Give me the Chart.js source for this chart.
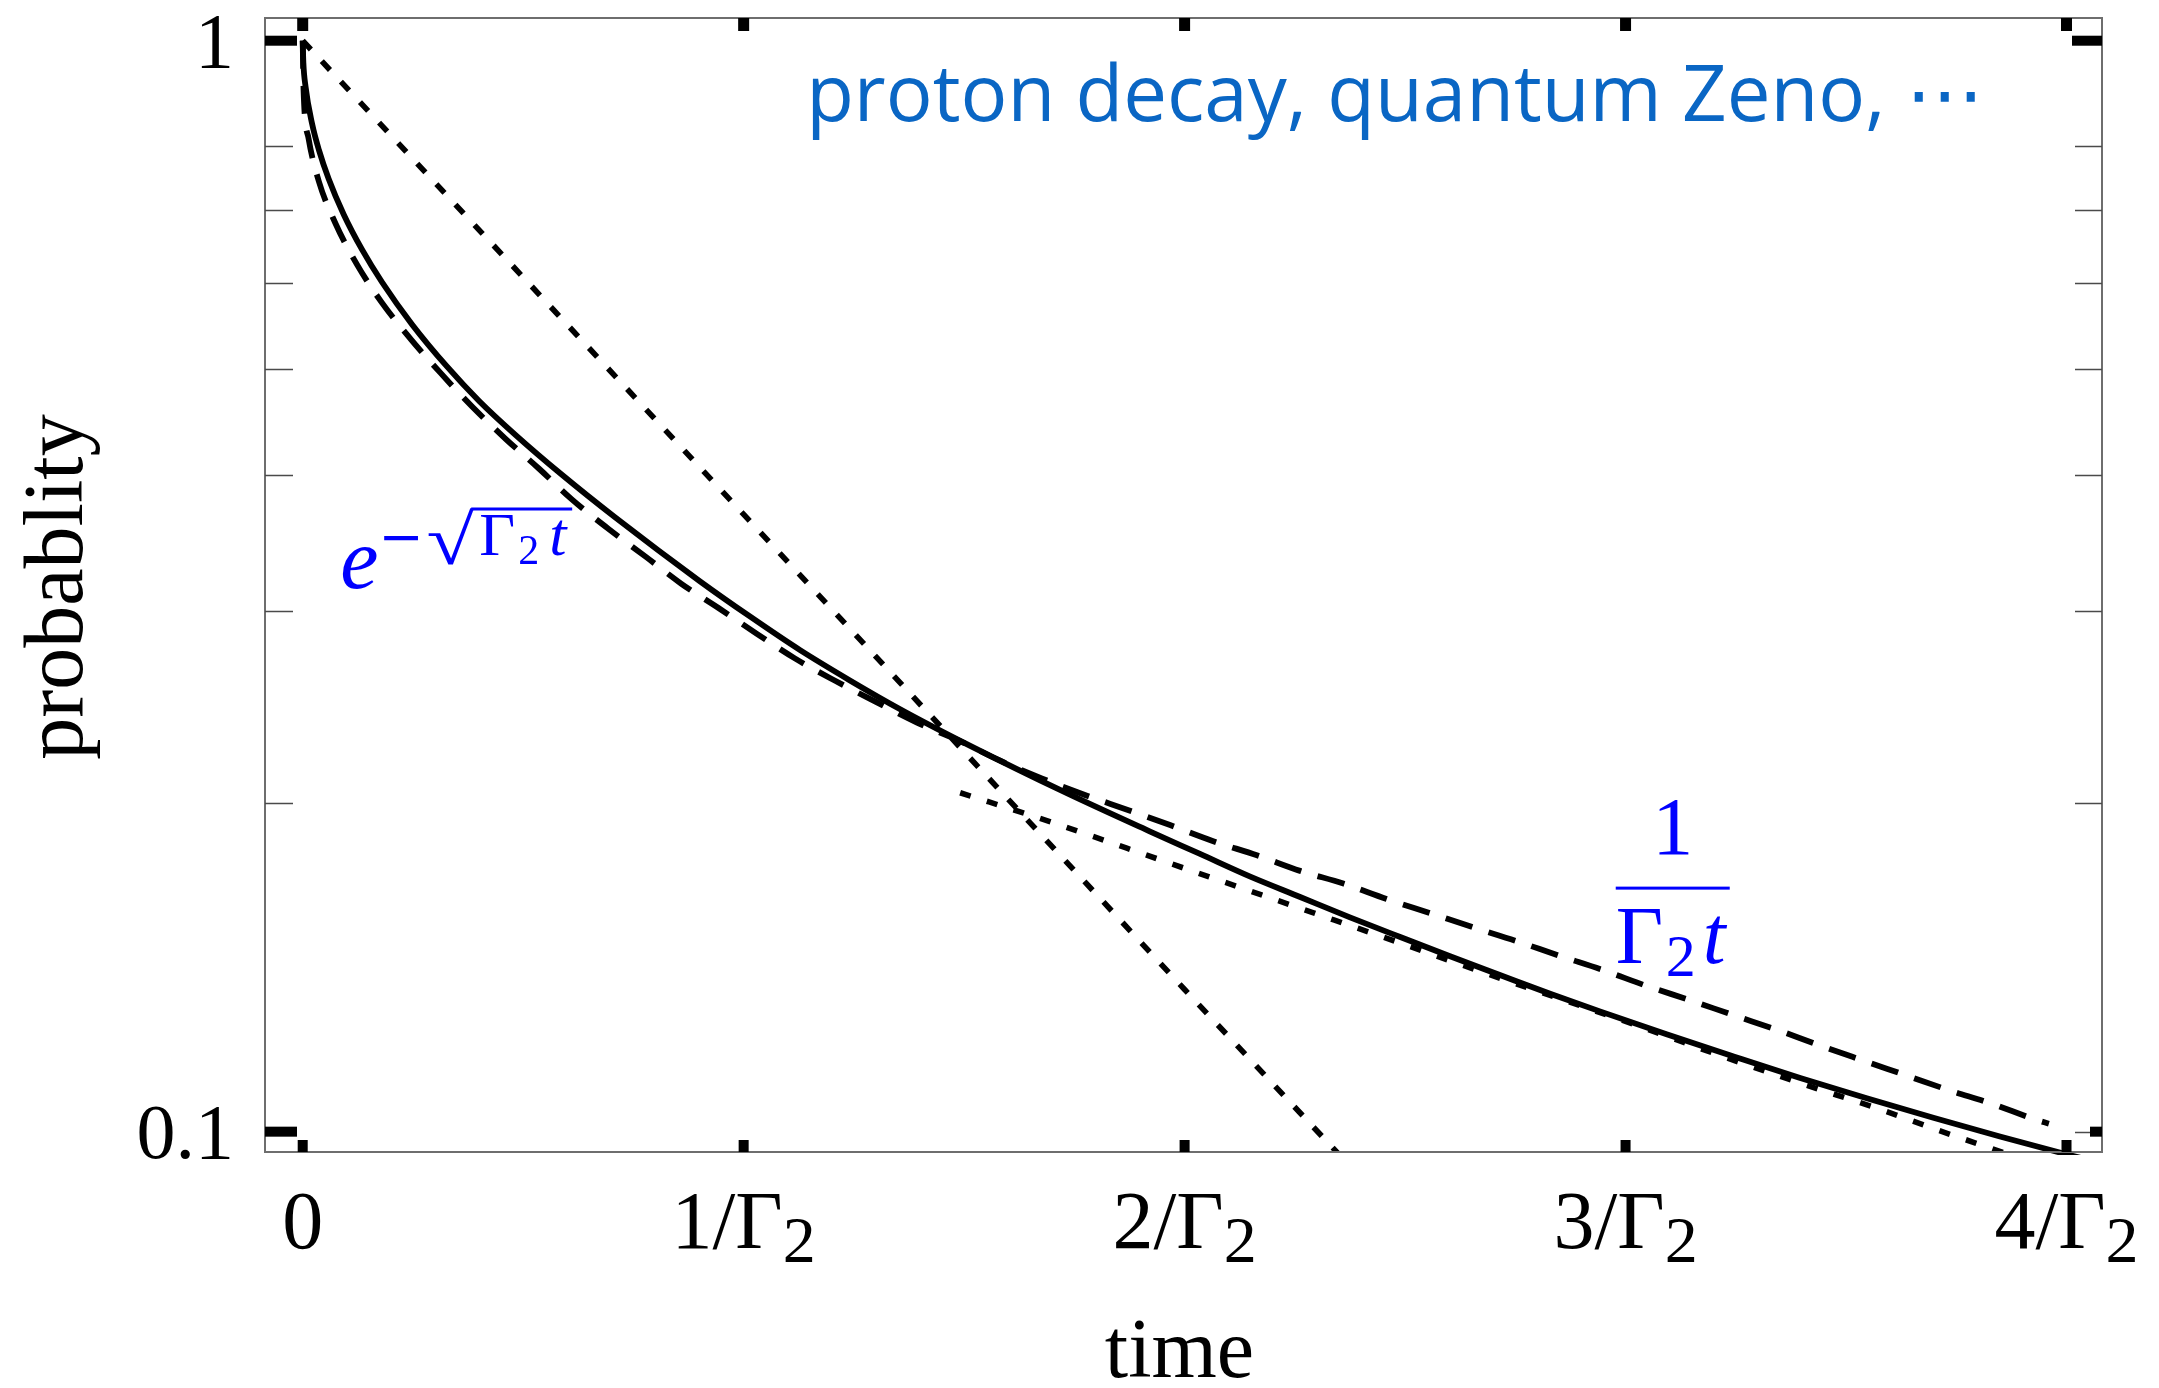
<!DOCTYPE html>
<html>
<head>
<meta charset="utf-8">
<script src="https://cdn.jsdelivr.net/npm/chart.js@4.4.1/dist/chart.umd.min.js"></script>
<style>
  html, body { margin: 0; padding: 0; background: #fff; }
  canvas { display: block; }
</style>
</head>
<body>
<canvas id="c" width="2159" height="1388"></canvas>
<script>
// Survival probability vs time (time in units of 1/Γ2), log-scaled probability.

// exact survival probability (solid)
const tSolid = [0, 0.0015, 0.0064, 0.0215, 0.0367, 0.059, 0.093, 0.135, 0.180, 0.248, 0.328, 0.40, 0.483, 0.588, 0.709, 0.901, 1.015, 1.128, 1.241, 1.355, 1.506, 1.733, 1.922, 2.035, 2.149, 2.262, 2.375, 2.489, 2.602, 2.715, 2.829, 2.942, 3.093, 3.245, 3.396, 3.547, 3.698, 3.849, 3.993, 4.06];
const pSolid = [1, 0.9546, 0.9083, 0.8385, 0.7943, 0.7468, 0.6930, 0.6430, 0.6006, 0.5495, 0.5023, 0.4675, 0.435, 0.400, 0.3655, 0.3195, 0.2965, 0.2763, 0.2592, 0.2439, 0.2266, 0.2043, 0.1884, 0.1797, 0.1713, 0.1641, 0.1572, 0.1508, 0.1448, 0.1392, 0.1338, 0.1289, 0.1228, 0.1172, 0.1120, 0.1073, 0.1030, 0.0990, 0.0955, 0.0940];

// short- and long-time asymptotic form (dashed)
const tDashed = [0, 0.002, 0.0132, 0.0367, 0.0744, 0.1236, 0.1787, 0.2445, 0.3125, 0.384, 0.46, 0.5355, 0.6097, 0.693, 0.778, 0.858, 0.943, 1.030, 1.117, 1.2075, 1.30, 1.393, 1.485, 1.582, 1.676, 1.774, 1.873, 1.967, 2.065, 2.164, 2.262, 2.36, 2.458, 2.557, 2.655, 2.753, 2.851, 2.95, 3.048, 3.146, 3.244, 3.343, 3.437, 3.536, 3.634, 3.732, 3.83, 3.929, 3.96];
const pDashed = [1, 0.90, 0.814, 0.743, 0.680, 0.623, 0.576, 0.533, 0.496, 0.462, 0.4316, 0.4054, 0.380, 0.357, 0.3365, 0.318, 0.302, 0.286, 0.2714, 0.259, 0.2477, 0.2371, 0.2286, 0.2188, 0.2108, 0.2035, 0.1971, 0.191, 0.1846, 0.1792, 0.1734, 0.1688, 0.1634, 0.1586, 0.1539, 0.1495, 0.1449, 0.1406, 0.136, 0.132, 0.1279, 0.124, 0.1201, 0.1163, 0.1127, 0.1092, 0.1061, 0.1026, 0.1017];

// pure exponential decay (dotted)
const tExp = [0, 0.5, 1, 1.5, 2, 2.4];
const pExp = [1, 0.607, 0.368, 0.223, 0.135, 0.0907];

// late-time tail (dotted)
const tTail = [1.491, 1.6875, 1.869, 2.054, 2.115, 2.296, 2.481, 2.663, 2.783, 3.0, 3.2, 3.396, 3.581, 3.706, 3.827, 3.9];
const pTail = [0.2045, 0.1928, 0.1819, 0.1713, 0.168, 0.1585, 0.1493, 0.1406, 0.1353, 0.1262, 0.1180, 0.1108, 0.1047, 0.1004, 0.0966, 0.0943];

// axes
const xTickValues = [0, 1, 2, 3, 4];
const xTickMain = ['0', '1/Γ', '2/Γ', '3/Γ', '4/Γ'];
const xTickSub = ['', '2', '2', '2', '2'];
const yMajorValues = [1, 0.1];
const yMajorLabels = ['1', '0.1'];
const yMinorValues = [0.2, 0.3, 0.4, 0.5, 0.6, 0.7, 0.8];
const xTitle = 'time';
const yTitle = 'probablity';
const noteText = 'proton decay, quantum Zeno, \u22EF';

const SERIF = '"Liberation Serif", "Times New Roman", serif';
const BLUE = '#0000ff';
const NOTE_BLUE = '#0a66c4';

function runsWidth(ctx, runs) {
  let w = 0;
  runs.forEach(r => { ctx.font = r.font; w += ctx.measureText(r.text).width; });
  return w;
}
function drawRuns(ctx, runs, x, y) {
  let cx = x;
  runs.forEach(r => {
    ctx.font = r.font;
    ctx.fillText(r.text, cx + (r.dx || 0), y + (r.dy || 0));
    cx += ctx.measureText(r.text).width + (r.dx || 0);
  });
}
// draw a glyph stretched to fill the box (left, top, width, height)
function fitGlyph(ctx, ch, font, left, top, w, h) {
  ctx.font = font;
  const m = ctx.measureText(ch);
  const gw = m.actualBoundingBoxLeft + m.actualBoundingBoxRight;
  const gh = m.actualBoundingBoxAscent + m.actualBoundingBoxDescent;
  ctx.save();
  ctx.translate(left, top);
  ctx.scale(w / gw, h / gh);
  ctx.textAlign = 'left';
  ctx.fillText(ch, m.actualBoundingBoxLeft, m.actualBoundingBoxAscent);
  ctx.restore();
}

const framePlugin = {
  id: 'frame',
  afterDraw(chart) {
    const { ctx, chartArea: a, scales: { x, y } } = chart;
    ctx.save();

    // plot frame
    ctx.strokeStyle = '#6e6e6e';
    ctx.lineWidth = 2;
    ctx.strokeRect(a.left, a.top, a.right - a.left, a.bottom - a.top);

    // minor y ticks, both sides
    ctx.strokeStyle = '#4a4a4a';
    ctx.lineWidth = 1.5;
    yMinorValues.forEach(v => {
      const py = Math.round(y.getPixelForValue(v)) + 0.5;
      ctx.beginPath();
      ctx.moveTo(a.left, py); ctx.lineTo(a.left + 28, py);
      ctx.moveTo(a.right - 27, py); ctx.lineTo(a.right, py);
      ctx.stroke();
    });

    // major x ticks, bottom and top
    ctx.fillStyle = '#000';
    xTickValues.forEach(v => {
      const px = x.getPixelForValue(v);
      ctx.fillRect(px - 5, a.bottom - 12, 10, 12);
      ctx.fillRect(px - 5.5, a.top, 11, 13);
    });

    // major y ticks
    yMajorValues.forEach((v, i) => {
      const py = y.getPixelForValue(v);
      ctx.fillRect(a.left, py - 5, 32, 10);
      if (i === 0) {
        ctx.fillRect(a.right - 30, py - 5, 30, 10);
      } else {
        ctx.fillRect(a.right - 12, py - 5, 12, 10);
        ctx.strokeStyle = '#4a4a4a';
        ctx.lineWidth = 1.5;
        ctx.beginPath();
        ctx.moveTo(a.right - 27, Math.round(py) + 0.5);
        ctx.lineTo(a.right - 12, Math.round(py) + 0.5);
        ctx.stroke();
      }
    });

    // x tick labels
    ctx.fillStyle = '#000';
    ctx.textBaseline = 'alphabetic';
    ctx.textAlign = 'left';
    xTickValues.forEach((v, i) => {
      const runs = [{ text: xTickMain[i], font: '82px ' + SERIF }];
      if (xTickSub[i]) runs.push({ text: xTickSub[i], font: '66px ' + SERIF, dy: 14 });
      const w = runsWidth(ctx, runs);
      drawRuns(ctx, runs, x.getPixelForValue(v) - w / 2, 1248);
    });

    // y tick labels
    ctx.textAlign = 'right';
    ctx.font = '78px ' + SERIF;
    yMajorValues.forEach((v, i) => {
      ctx.fillText(yMajorLabels[i], 234, y.getPixelForValue(v) + 26);
    });

    // axis titles
    ctx.textAlign = 'center';
    ctx.font = '84px ' + SERIF;
    ctx.fillText(xTitle, (a.left + a.right) / 2 - 4, 1377);
    ctx.save();
    ctx.translate(82, (a.top + a.bottom) / 2 + 2);
    ctx.rotate(-Math.PI / 2);
    ctx.fillText(yTitle, 0, 0);
    ctx.restore();

    // note, top right
    ctx.textAlign = 'left';
    ctx.fillStyle = NOTE_BLUE;
    ctx.font = '78px "Open Sans", "DejaVu Sans", sans-serif';
    ctx.fillText(noteText, x.getPixelForValue(1.1417), y.getPixelForValue(0.844));

    // e^{-sqrt(Γ2 t)} label
    ctx.fillStyle = BLUE;
    ctx.strokeStyle = BLUE;
    const ex = x.getPixelForValue(0.085), ey = y.getPixelForValue(0.3153);
    ctx.font = 'italic 86px ' + SERIF;
    ctx.fillText('e', ex, ey);
    ctx.font = '54px "DejaVu Serif", serif';
    ctx.fillText('\u2212', ex + 38, ey - 33);
    fitGlyph(ctx, '\u221A', '100px ' + SERIF, ex + 88, ey - 80, 46, 57);
    ctx.lineWidth = 3;
    ctx.beginPath();
    ctx.moveTo(ex + 131, ey - 78.5);
    ctx.lineTo(ex + 232, ey - 78.5);
    ctx.stroke();
    ctx.font = '62px ' + SERIF;
    ctx.fillText('\u0393', ex + 139, ey - 33);
    ctx.font = '42px ' + SERIF;
    ctx.fillText('2', ex + 178, ey - 24);
    ctx.font = 'italic 62px ' + SERIF;
    ctx.fillText('t', ex + 209, ey - 33);

    // 1/(Γ2 t) label
    const fx = x.getPixelForValue(3.107), fy = y.getPixelForValue(0.1672);
    ctx.textAlign = 'center';
    ctx.font = '82px ' + SERIF;
    ctx.fillText('1', fx, fy - 34);
    ctx.fillRect(fx - 57, fy - 1.5, 114, 3);
    ctx.textAlign = 'left';
    ctx.font = '82px ' + SERIF;
    ctx.fillText('\u0393', fx - 57, fy + 75);
    ctx.font = '60px ' + SERIF;
    ctx.fillText('2', fx - 7, fy + 88);
    ctx.font = 'italic 82px ' + SERIF;
    ctx.fillText('t', fx + 30, fy + 75);

    ctx.restore();
  }
};

const pts = (ts, ps) => ts.map((t, i) => ({ x: t, y: ps[i] }));

function build() {
  new Chart(document.getElementById('c'), {
    type: 'line',
    data: {
      datasets: [
        { label: 'exact', data: pts(tSolid, pSolid), borderColor: '#000', borderWidth: 5.8,
          pointRadius: 0, cubicInterpolationMode: 'monotone', borderCapStyle: 'butt', fill: false, clip: 3 },
        { label: 'asymptotic', data: pts(tDashed, pDashed), borderColor: '#000', borderWidth: 5.8,
          borderDash: [28, 17], borderCapStyle: 'butt', pointRadius: 0, cubicInterpolationMode: 'monotone', fill: false, clip: 3 },
        { label: 'exponential', data: pts(tExp, pExp), borderColor: '#000', borderWidth: 5.6,
          borderDash: [12, 16], borderCapStyle: 'butt', pointRadius: 0, tension: 0, fill: false, clip: 0 },
        { label: 'tail', data: pts(tTail, pTail), borderColor: '#000', borderWidth: 5.6,
          borderDash: [11, 17], borderCapStyle: 'butt', pointRadius: 0, cubicInterpolationMode: 'monotone', fill: false, clip: 0 }
      ]
    },
    options: {
      responsive: false,
      devicePixelRatio: 1,
      animation: false,
      events: [],
      layout: { padding: { left: 265, top: 18, right: 57, bottom: 236 } },
      scales: {
        x: { type: 'linear', display: false, min: -0.0855, max: 4.0805, bounds: 'data' },
        y: { type: 'logarithmic', display: false, min: 0.0958, max: 1.0491, bounds: 'data' }
      },
      plugins: { legend: { display: false }, tooltip: { enabled: false } }
    },
    plugins: [framePlugin]
  });
}

if (document.fonts && document.fonts.load) {
  Promise.all([
    document.fonts.load('80px "Liberation Serif"'),
    document.fonts.load('italic 80px "Liberation Serif"'),
    document.fonts.load('60px "DejaVu Serif"'),
    document.fonts.load('78px "Open Sans"')
  ]).then(build, build);
} else {
  build();
}
</script>
</body>
</html>
